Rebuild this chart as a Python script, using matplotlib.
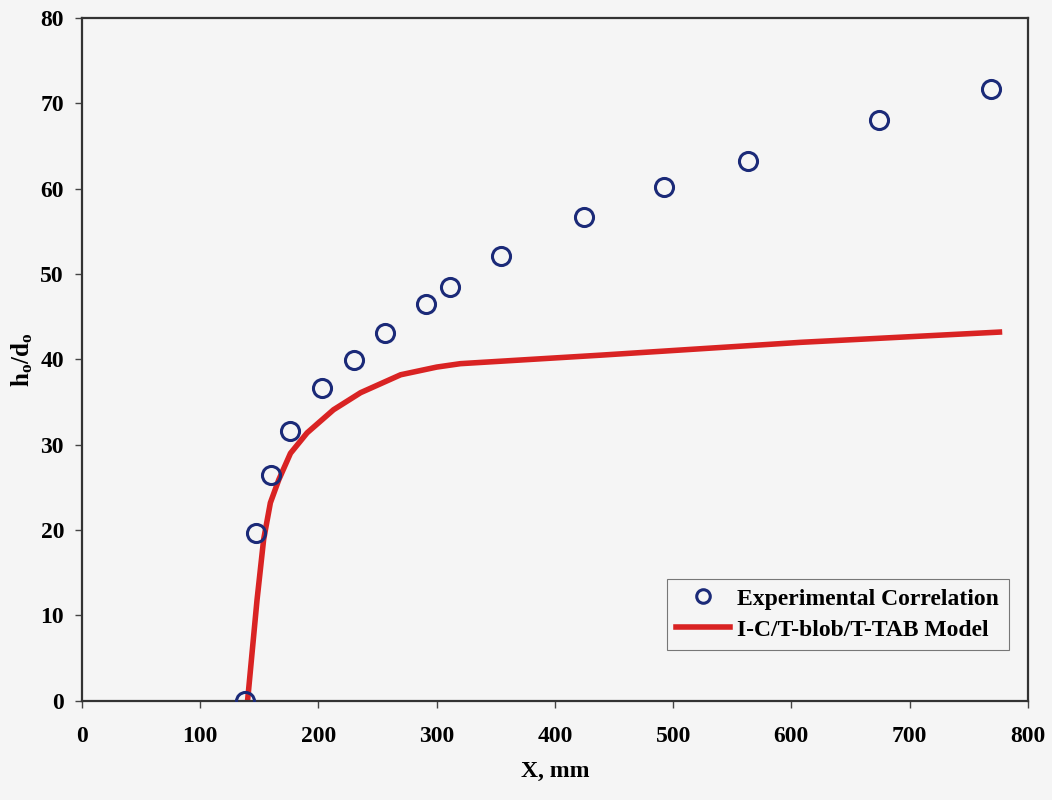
import numpy as np
import matplotlib
matplotlib.use("Agg")
import matplotlib.pyplot as plt

# experimental correlation points
exp_x = [138, 147, 160, 176, 203, 230, 256, 291, 311, 354, 425, 492, 563, 674, 769]
exp_y = [0, 19.7, 26.5, 31.6, 36.7, 39.9, 43.1, 46.5, 48.5, 52.1, 56.7, 60.2, 63.3, 68.1, 71.7]

# I-C/T-blob/T-TAB model curve
mod_x = [140, 148, 153.6, 159.3, 166.4, 176.3, 190.4, 212.7, 235.6, 269.5, 300, 320, 439, 608, 776]
mod_y = [0, 11.8, 18.9, 23.2, 25.9, 29.0, 31.4, 34.1, 36.1, 38.2, 39.1, 39.5, 40.5, 42.0, 43.2]

xticks = [0, 100, 200, 300, 400, 500, 600, 700, 800]
yticks = [0, 10, 20, 30, 40, 50, 60, 70, 80]

plt.rcParams['font.family'] = ['Liberation Serif', 'DejaVu Serif']
plt.rcParams['font.weight'] = 'bold'
plt.rcParams['mathtext.fontset'] = 'custom'
plt.rcParams['mathtext.rm'] = 'Liberation Serif:bold'
plt.rcParams['mathtext.it'] = 'Liberation Serif:bold'
plt.rcParams['mathtext.bf'] = 'Liberation Serif:bold'

bg = '#f5f5f5'
fig = plt.figure(figsize=(10.52, 8), dpi=100, facecolor=bg)
ax = fig.add_axes([0.078, 0.124, 0.899, 0.8535], facecolor=bg)

ax.plot(exp_x, exp_y, linestyle='none', marker='o', markersize=13,
        markerfacecolor='none', markeredgecolor='#1b2a78', markeredgewidth=2.2,
        label='Experimental Correlation', zorder=3)
ax.plot(mod_x, mod_y, color='#d92323', linewidth=4,
        label='I-C/T-blob/T-TAB Model', zorder=2)

ax.set_xlim(0, 800)
ax.set_ylim(0, 80)
ax.set_xticks(xticks)
ax.set_yticks(yticks)
ax.tick_params(axis='both', direction='out', length=5, width=1, color='#444444',
               labelsize=17)
ax.tick_params(axis='x', pad=13)
ax.tick_params(axis='y', pad=8)
for lab in ax.get_xticklabels() + ax.get_yticklabels():
    lab.set_fontweight('bold')
for sp in ax.spines.values():
    sp.set_linewidth(1.6)
    sp.set_color('#333333')

ax.set_xlabel('X, mm', fontsize=17, fontweight='bold', labelpad=10)
ax.set_ylabel(r'h$_{\rm o}$/d$_{\rm o}$', fontsize=18, fontweight='bold', labelpad=4)

leg = ax.legend(loc='upper left', bbox_to_anchor=(0.618, 0.179), frameon=True,
                fancybox=False, edgecolor='#777777', facecolor=bg, framealpha=1,
                prop={'size': 17, 'weight': 'bold'}, handlelength=2.3,
                handletextpad=0.3, markerscale=0.75,
                borderpad=0.4, labelspacing=0.4, borderaxespad=0)
leg.get_frame().set_linewidth(0.8)

fig.savefig('out.png', dpi=100, facecolor=bg)
